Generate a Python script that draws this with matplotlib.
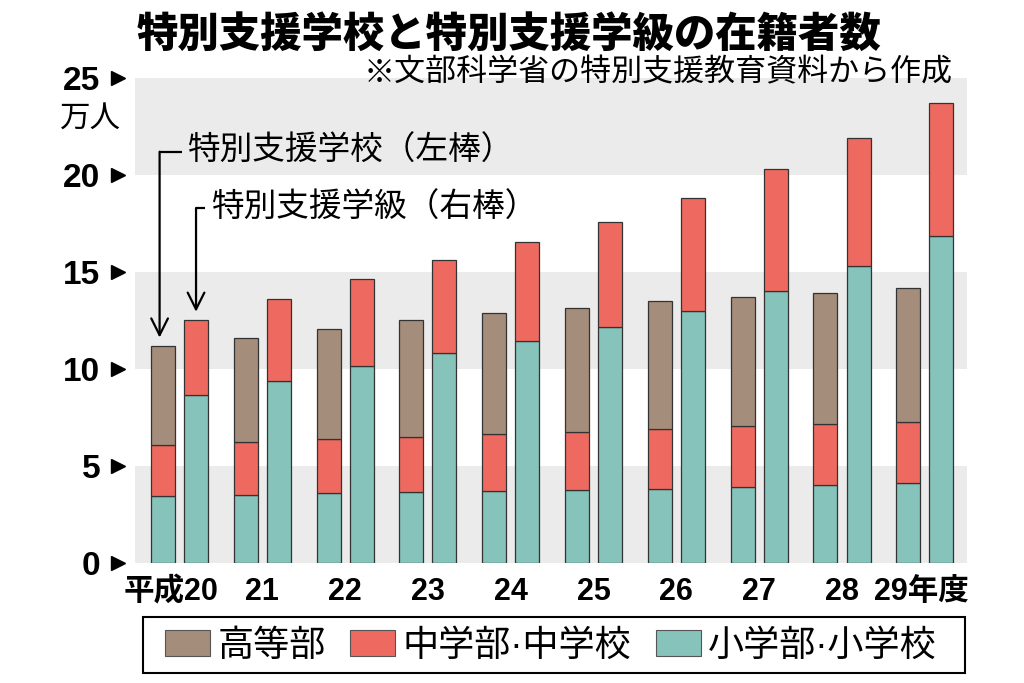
import matplotlib
matplotlib.use('Agg')
import matplotlib.pyplot as plt
from matplotlib.patches import Patch, Rectangle
import numpy as np

plt.rcParams['font.family'] = ['Liberation Sans', 'Noto Sans CJK JP', 'DejaVu Sans']

years = ['平成20', '21', '22', '23', '24', '25', '26', '27', '28', '29年度']
# 特別支援学校 (left bar), 万人
school_elem = [3.43, 3.53, 3.60, 3.65, 3.71, 3.78, 3.84, 3.90, 4.00, 4.12]
school_mid = [2.63, 2.73, 2.78, 2.87, 2.92, 2.97, 3.06, 3.14, 3.16, 3.13]
school_high = [5.11, 5.36, 5.70, 5.99, 6.27, 6.42, 6.60, 6.66, 6.74, 6.90]
# 特別支援学級 (right bar)
class_elem = [8.68, 9.39, 10.17, 10.82, 11.46, 12.17, 12.98, 14.04, 15.33, 16.83]
class_mid = [3.82, 4.21, 4.45, 4.78, 5.08, 5.42, 5.85, 6.25, 6.58, 6.87]

c_high = '#a58d7b'
c_mid = '#ee6a60'
c_elem = '#86c3ba'
edge = '#333333'

fig = plt.figure(figsize=(10.24, 6.83), dpi=100)
ax = fig.add_axes([135/1024, 1-563/683, 832/1024, 485/683])

x = np.arange(len(years))
off = 0.2
w = 0.29
xs = x - off
xc = x + off

for lo, hi in [(0, 5), (10, 15), (20, 25)]:
    ax.axhspan(lo, hi, color='#ebebeb', zorder=0, lw=0)

kw = dict(width=w, edgecolor=edge, linewidth=0.9, zorder=3)
ax.bar(xs, school_elem, color=c_elem, **kw)
ax.bar(xs, school_mid, bottom=school_elem, color=c_mid, **kw)
ax.bar(xs, school_high, bottom=np.add(school_elem, school_mid), color=c_high, **kw)
ax.bar(xc, class_elem, color=c_elem, **kw)
ax.bar(xc, class_mid, bottom=class_elem, color=c_mid, **kw)

ax.set_xlim(-0.537, 9.51)
ax.set_ylim(0, 25)
for s in ax.spines.values():
    s.set_visible(False)

ax.set_yticks([0, 5, 10, 15, 20, 25])
ax.set_yticklabels(['0', '5', '10', '15', '20', '25'], fontsize=24, fontweight='bold')
ax.tick_params(axis='y', length=0, pad=25)
ax.plot([-0.021] * 6, [0, 5, 10, 15, 20, 25], marker='>', ls='none', ms=10,
        color='black', transform=ax.get_yaxis_transform(), clip_on=False)
ax.text(-0.054, 22.9, '万人', transform=ax.get_yaxis_transform(), fontsize=22,
        ha='center', va='center')

tick_pos = x.astype(float).copy()
tick_pos[0] -= 0.1
tick_pos[-1] -= 0.04
ax.set_xticks(tick_pos)
ax.set_xticklabels(years, fontsize=22, fontweight='bold')
ax.tick_params(axis='x', length=0, pad=10)

# annotation arrows
def callout(bx, top, yline, text, dx_line, dx_text):
    ax.plot([bx, bx + dx_line], [yline, yline], color='black', lw=1.6,
            zorder=5, solid_capstyle='butt')
    ax.annotate('', xy=(bx, top + 0.45), xytext=(bx, yline),
                arrowprops=dict(arrowstyle='->', lw=1.6, color='black',
                                mutation_scale=30, shrinkA=0, shrinkB=0),
                zorder=5)
    ax.text(bx + dx_text, yline, text, fontsize=23.5, ha='left', va='center',
            zorder=5)

top_school0 = school_elem[0] + school_mid[0] + school_high[0]
top_class0 = class_elem[0] + class_mid[0]
callout(xs[0] - 0.04, top_school0, 21.2, '特別支援学校（左棒）', 0.27, 0.33)
callout(xc[0], top_class0, 18.3, '特別支援学級（右棒）', 0.11, 0.18)

fig.text(137/1024, 1-35/683, '特別支援学校と特別支援学級の在籍者数', fontsize=29.8,
         fontweight='black', ha='left', va='center')
fig.text(953/1024, 1-73/683, '※文部科学省の特別支援教育資料から作成', fontsize=22.3,
         ha='right', va='center')

# legend: frame drawn separately so the inner padding matches
fig.patches.append(Rectangle((143/1024, 1-673/683), 822/1024, 56/683,
                             transform=fig.transFigure, fill=False,
                             edgecolor='black', lw=1.5))
handles = [Patch(facecolor=c_high, edgecolor='#555555', lw=0.8),
           Patch(facecolor=c_mid, edgecolor='#555555', lw=0.8),
           Patch(facecolor=c_elem, edgecolor='#555555', lw=0.8)]
leg = fig.legend(handles, ['高等部', '中学部·中学校', '小学部·小学校'],
                 loc='center left', ncol=3, mode='expand',
                 bbox_to_anchor=(165/1024, 1-646/683, 772/1024, 0),
                 fontsize=26, frameon=False,
                 handlelength=1.25, handleheight=0.75, handletextpad=0.2,
                 borderpad=0, borderaxespad=0)

fig.savefig('out.png', dpi=100)
